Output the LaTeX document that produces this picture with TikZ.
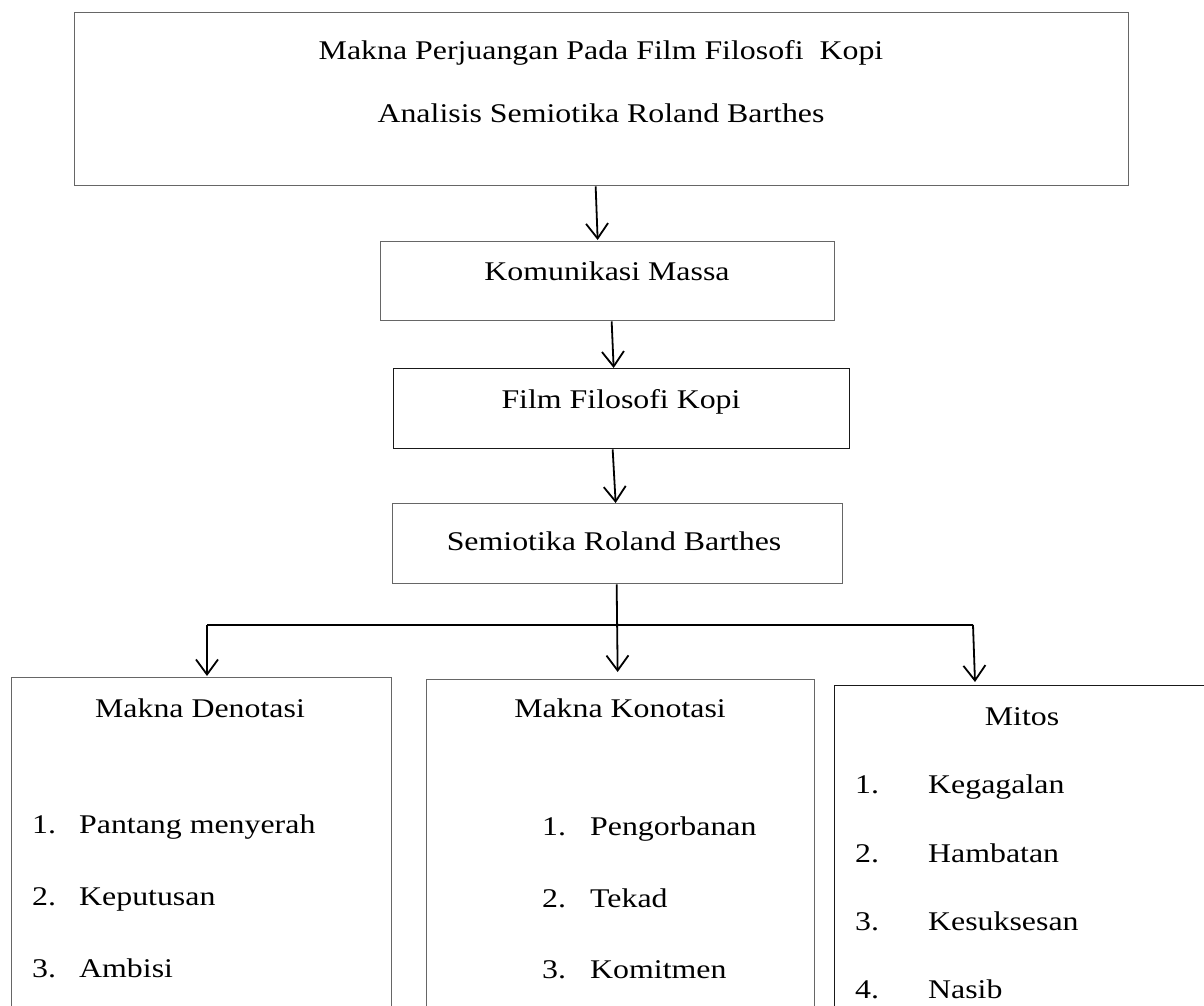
\documentclass[tikz,border=0pt]{standalone}
\usepackage{fontspec}
\setmainfont[FakeStretch=1.18]{Liberation Serif}
\usetikzlibrary{arrows.meta}
\begin{document}
\begin{tikzpicture}[x=1pt,y=-1pt,
  box/.style={draw=black!60, line width=1.3pt, inner sep=0pt, anchor=north west},
  boxk/.style={box, draw=black!90},
  txt/.style={anchor=base, inner sep=0pt, font=\fontsize{27}{32}\selectfont},
  item/.style={anchor=base west, inner sep=0pt, font=\fontsize{27}{32}\selectfont},
  conn/.style={draw=black, line width=1.3pt},
  arr/.style={draw=black, line width=1.8pt, -{Straight Barb[length=15pt,width=22pt]}}]
\clip (0,0) rectangle (1204,1006);
\fill[white] (0,0) rectangle (1204,1006);
% boxes
\node[box, minimum width=1054pt, minimum height=173pt] (top) at (74,12) {};
\node[box, minimum width=454pt, minimum height=79pt] (kom) at (380,241) {};
\node[boxk, minimum width=456pt, minimum height=80pt] (film) at (393,368) {};
\node[box, minimum width=450pt, minimum height=80pt] (sem) at (392,503) {};
\node[box, minimum width=380pt, minimum height=400pt] (den) at (11,677) {};
\node[box, minimum width=388pt, minimum height=400pt] (kon) at (426,679) {};
\node[boxk, minimum width=420pt, minimum height=400pt] (mit) at (834,685) {};
% texts
\node[txt] (t1) at (601,60) {Makna Perjuangan Pada Film Filosofi\ \ Kopi};
\node[txt] (t2) at (601,123) {Analisis Semiotika Roland Barthes};
\node[txt] (komt) at (607,280) {Komunikasi Massa};
\node[txt] (filmt) at (621,408) {Film Filosofi Kopi};
\node[txt] (semt) at (614,550) {Semiotika Roland Barthes};
\node[txt] (dent) at (200,717) {Makna Denotasi};
\node[txt] (kont) at (620,717) {Makna Konotasi};
\node[txt] (mitt) at (1022,725) {Mitos};
\node[item] (d1) at (32,833) {\makebox[47pt][l]{1.}Pantang menyerah};
\node[item] (d2) at (32,905) {\makebox[47pt][l]{2.}Keputusan};
\node[item] (d3) at (32,977) {\makebox[47pt][l]{3.}Ambisi};
\node[item] (k1) at (542,835) {\makebox[48pt][l]{1.}Pengorbanan};
\node[item] (k2) at (542,907) {\makebox[48pt][l]{2.}Tekad};
\node[item] (k3) at (542,978) {\makebox[48pt][l]{3.}Komitmen};
\node[item] (m1) at (855,793) {\makebox[73pt][l]{1.}Kegagalan};
\node[item] (m2) at (855,862) {\makebox[73pt][l]{2.}Hambatan};
\node[item] (m3) at (855,930) {\makebox[73pt][l]{3.}Kesuksesan};
\node[item] (m4) at (855,998) {\makebox[73pt][l]{4.}Nasib};
% connectors
\draw[arr] ([xshift=-6pt]top.south) -- ([xshift=-10pt,yshift=1pt]kom.north);
\draw[arr] ([xshift=4pt]kom.south) -- ([xshift=-8pt]film.north);
\draw[arr] ([xshift=-9pt]film.south) -- ([xshift=-2pt]sem.north);
\draw[arr] ([xshift=-1pt]sem.south) -- ([xshift=-3pt,yshift=7pt]kon.north);
\coordinate (jl) at (207,625);
\coordinate (jr) at (973,625);
\draw[conn] (jl) -- (jr);
\draw[arr] (jl) -- ([yshift=1pt]jl |- den.north);
\draw[arr] (jr) -- ([xshift=2pt,yshift=3pt]jr |- mit.north);
\end{tikzpicture}
\end{document}
